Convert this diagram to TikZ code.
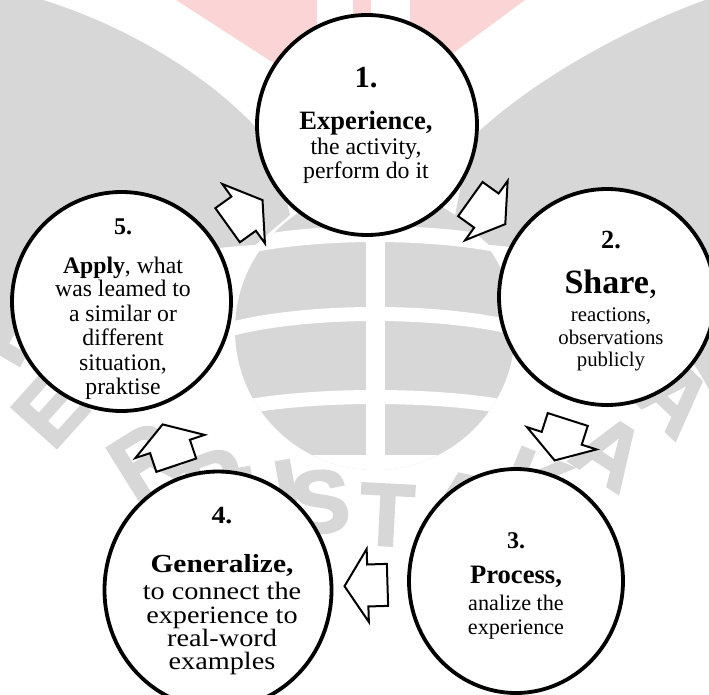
\documentclass[tikz,border=0pt]{standalone}
\usepackage{fontspec}
\setmainfont{Liberation Serif}
\newfontfamily\wideserif{Liberation Serif}[FakeStretch=1.13]
\newfontfamily\marksans{Liberation Sans}[FakeBold=3]
\usetikzlibrary{positioning,calc,shapes.geometric,shapes.arrows}

\definecolor{markgray}{RGB}{215,215,215}
\definecolor{markpink}{RGB}{251,213,213}
% let the lines of a stage sit close, as set
\lineskiplimit=-100pt

\begin{document}
\begin{tikzpicture}[x=1pt,y=1pt,yscale=-1,
    stage/.style={ellipse, draw, line width=3.8pt, fill=white, inner sep=0pt},
    stagetext/.style={align=center, inner sep=0pt, anchor=north},
    flow/.style={single arrow, draw, line width=2pt, fill=white, anchor=tail,
      inner xsep=0pt, inner ysep=20pt, single arrow head extend=15.5pt,
      single arrow tip angle=115, minimum height=43pt, minimum width=0pt},
    markletter/.style={text=markgray, inner sep=0pt, font=\marksans\bfseries\fontsize{88}{88}\selectfont},
  ]
  \useasboundingbox (0,0) rectangle (709,695);

  % background mark: wings, torch and globe
  \fill[markgray] (0,0) -- (43,0) .. controls (140,30) and (230,90) .. (275,150) -- (290,215)
    -- (255,245) .. controls (150,250) and (50,290) .. (0,335) -- cycle;
  \fill[markgray] (709,0) -- (705,0) .. controls (610,35) and (520,90) .. (470,140) -- (455,215)
    -- (489,245) .. controls (594,250) and (680,330) .. (709,390) -- cycle;
  \fill[markpink] (176,0) -- (317,0) -- (317,91) -- cycle;
  \fill[markpink] (353,0) -- (371,0) -- (371,60) -- (353,60) -- cycle;
  \fill[markpink] (410,0) -- (525,0) -- (410,85) -- cycle;
  \begin{scope}
    \clip (375,330) circle (140);
    \fill[markgray] (230,190) rectangle (520,470);
    \draw[white, line width=16] (220,252) .. controls (300,228) and (450,228) .. (530,252);
    \draw[white, line width=14] (220,332) .. controls (300,308) and (450,308) .. (530,332);
    \draw[white, line width=14] (220,412) .. controls (300,392) and (450,392) .. (530,412);
    \fill[white] (366,190) rectangle (385,470);
    \fill[white] (220,455) rectangle (530,480);
  \end{scope}
  % lettering round the lower rim
  \foreach \ch/\px/\py/\tilt [count=\i] in {P/5/330/60, E/50/410/48, R/145/460/32, P/215/483/20,
      U/268/495/10, S/320/502/4, T/387/515/-3, A/460/505/-12, K/535/485/-22, A/610/452/-33,
      A/675/398/-44, N/725/342/-55}
    \node[markletter, rotate=\tilt] (mark\i) at (\px,\py) {\ch};

  % stages of the cycle
  \node[stage, minimum width=220, minimum height=220] (s1) at (367,125) {};
  \node[stage, minimum width=216, minimum height=216] (s2) at (607,297) {};
  \node[stage, minimum width=214, minimum height=224] (s3) at (516,581) {};
  \node[stage, minimum width=227, minimum height=237] (s4) at (218,590) {};
  \node[stage, minimum width=219, minimum height=219] (s5) at (121.5,301.5) {};

  \node[stagetext, font=\fontsize{23.8}{23.3}\selectfont] (t1) at (366,66.6)
    {{\bfseries\fontsize{30.6}{30}\selectfont 1.}\\[18.7pt]
     {\bfseries\fontsize{26.5}{26}\selectfont Experience,}\\[2.4pt]
     the activity,\\ perform do it};
  \node[stagetext, font=\fontsize{20.8}{22.5}\selectfont] (t2) at (611,230.6)
    {{\bfseries\fontsize{26.2}{26}\selectfont 2.}\\[22.5pt]
     {\fontsize{34}{34}\selectfont\textbf{Share},}\\[5.9pt]
     reactions,\\ observations\\ publicly};
  \node[stagetext, font=\fontsize{22.2}{24}\selectfont] (t3) at (516,532.1)
    {{\bfseries\fontsize{24}{24}\selectfont 3.}\\[11.7pt]
     {\bfseries\fontsize{26.6}{26}\selectfont Process,}\\[3pt]
     analize the\\ experience};
  \node[stagetext, font=\wideserif\fontsize{25}{23.4}\selectfont] (t4) at (222,507.3)
    {{\bfseries\fontsize{24.7}{24}\selectfont 4.}\\[25.3pt]
     {\bfseries\fontsize{26}{26}\selectfont Generalize,}\\[3.9pt]
     to connect the\\ experience to\\ real-word\\ examples};
  \node[stagetext, font=\fontsize{23.7}{24.6}\selectfont] (t5) at (123,218.8)
    {{\bfseries\fontsize{24}{24}\selectfont 5.}\\[13.7pt]
     \textbf{Apply}, what\\[-1.2pt]
     was leamed to\\ a similar or\\ different\\ situation,\\ praktise};

  % block arrows between the stages (node rotation runs against the flipped y axis)
  \path let \p1=($(s2)-(s1)$) in ($(s1)!.5!(s2)!-21.5pt!(s2)$) node[flow, rotate={-atan2(\y1,\x1)}] (a12) {};
  \path let \p1=($(s3)-(s2)$) in ($(s2)!.5!(s3)!-21.5pt!(s3)$) node[flow, rotate={-atan2(\y1,\x1)}] (a23) {};
  \path let \p1=($(s4)-(s3)$) in ($(s3)!.5!(s4)!-21.5pt!(s4)$) node[flow, rotate={-atan2(\y1,\x1)}] (a34) {};
  \path let \p1=($(s5)-(s4)$) in ($(s4)!.5!(s5)!-21.5pt!(s5)$) node[flow, rotate={-atan2(\y1,\x1)}] (a45) {};
  \path let \p1=($(s1)-(s5)$) in ($(s5)!.5!(s1)!-21.5pt!(s1)$) node[flow, rotate={-atan2(\y1,\x1)}] (a51) {};
\end{tikzpicture}
\end{document}
